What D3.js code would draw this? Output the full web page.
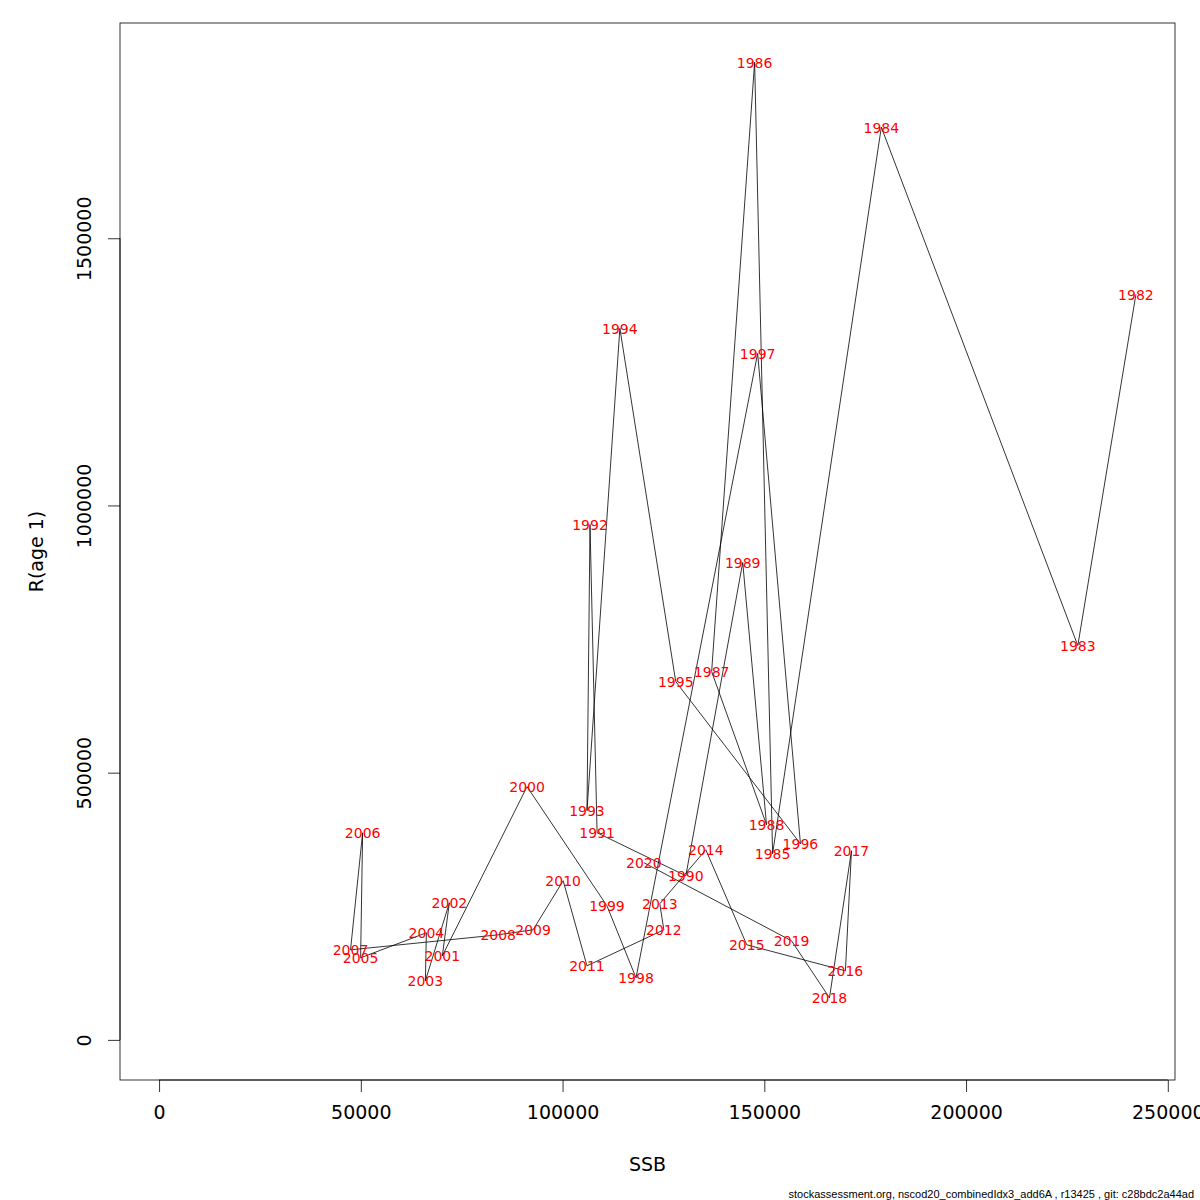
<!DOCTYPE html>
<html>
<head>
<meta charset="utf-8">
<script src="https://cdn.jsdelivr.net/npm/d3@7/dist/d3.min.js"></script>
<style>
  body { margin: 0; background: #fff; }
  svg { display: block; font-family: "DejaVu Sans", sans-serif; }
</style>
</head>
<body>
<svg id="chart" width="1200" height="1200"></svg>
<script>
// values
var years = [1982, 1983, 1984, 1985, 1986, 1987, 1988, 1989, 1990, 1991,
  1992, 1993, 1994, 1995, 1996, 1997, 1998, 1999, 2000, 2001,
  2002, 2003, 2004, 2005, 2006, 2007, 2008, 2009, 2010, 2011,
  2012, 2013, 2014, 2015, 2016, 2017, 2018, 2019, 2020];
var ssb = [242100, 227700, 179000, 152050, 147600, 136950, 150550, 144650, 130550, 108550,
  106800, 106050, 114200, 128050, 158950, 148350, 118200, 111000, 91200, 70200,
  71950, 66000, 66250, 49950, 50450, 47450, 84050, 92700, 100150, 106050,
  125100, 124100, 135500, 145650, 170100, 171600, 166150, 156750, 120150];
var rec = [1395100, 737800, 1707900, 348300, 1829600, 689100, 402600, 893300, 307100, 387600,
  964400, 428800, 1331500, 670400, 367000, 1284600, 116100, 250900, 473800, 157300,
  256600, 110500, 200400, 153600, 387600, 168500, 196600, 206000, 297800, 138600,
  206000, 254700, 355800, 177900, 129200, 353900, 78700, 185400, 331500];
var xTicks = [0, 50000, 100000, 150000, 200000, 250000];
var yTicks = [0, 500000, 1000000, 1500000];
var footer = 'stockassessment.org, nscod20_combinedIdx3_add6A , r13425 , git: c28bdc2a44ad';

var svg = d3.select('#chart');
var plotL = 120, plotR = 1175, plotT = 23, plotB = 1080;

// R style range: include 0, pad 4% either side
function rExtend(max) {
  var pad = max * 0.04;
  return [-pad, max + pad];
}

var x = d3.scaleLinear().domain(rExtend(d3.max(ssb))).range([plotL, plotR]);
var y = d3.scaleLinear().domain(rExtend(d3.max(rec))).range([plotB - 1, plotT]);

var pts = years.map(function(yr, i) { return { year: yr, s: ssb[i], r: rec[i] }; });

// connecting line
svg.append('path')
  .datum(pts)
  .attr('fill', 'none')
  .attr('stroke', '#000')
  .attr('stroke-width', 0.8)
  .attr('d', d3.line().x(function(d) { return x(d.s); }).y(function(d) { return y(d.r); }));

// year labels
svg.append('g')
  .selectAll('text')
  .data(pts)
  .enter().append('text')
  .attr('x', function(d) { return x(d.s); })
  .attr('y', function(d) { return y(d.r); })
  .attr('dy', '0.4em')
  .attr('text-anchor', 'middle')
  .attr('font-size', 14)
  .attr('fill', '#ff0000')
  .text(function(d) { return d.year; });

// box
svg.append('rect')
  .attr('x', plotL).attr('y', plotT)
  .attr('width', plotR - plotL).attr('height', plotB - plotT)
  .attr('fill', 'none').attr('stroke', '#000').attr('stroke-width', 0.8);

// x axis
var xAxis = svg.append('g').attr('transform', 'translate(0,' + plotB + ')')
  .call(d3.axisBottom(x).tickValues(xTicks).tickSize(12).tickPadding(14).tickFormat(d3.format('d')));
xAxis.selectAll('path, line').attr('stroke', '#000').attr('stroke-width', 0.8);
xAxis.select('.domain').attr('d', 'M' + x(xTicks[0]) + ',0H' + x(xTicks[xTicks.length - 1]));
xAxis.selectAll('text').attr('font-size', 19).attr('font-family', 'DejaVu Sans').attr('fill', '#000');

// y axis, labels turned like R's default
var yAxis = svg.append('g').attr('transform', 'translate(' + plotL + ',0)')
  .call(d3.axisLeft(y).tickValues(yTicks).tickSize(12).tickFormat(d3.format('d')));
yAxis.selectAll('path, line').attr('stroke', '#000').attr('stroke-width', 0.8);
yAxis.select('.domain').attr('d', 'M0,' + y(yTicks[0]) + 'V' + y(yTicks[yTicks.length - 1]));
yAxis.selectAll('text')
  .attr('x', null).attr('dy', null)
  .attr('transform', 'translate(-36,0) rotate(-90)')
  .attr('text-anchor', 'middle')
  .attr('dominant-baseline', 'central')
  .attr('font-size', 19).attr('font-family', 'DejaVu Sans').attr('fill', '#000');

// axis titles
svg.append('text')
  .attr('x', (plotL + plotR) / 2).attr('y', 1171)
  .attr('text-anchor', 'middle')
  .attr('font-size', 19)
  .text('SSB');

svg.append('text')
  .attr('transform', 'translate(43,' + (plotT + plotB) / 2 + ') rotate(-90)')
  .attr('text-anchor', 'middle')
  .attr('font-size', 19)
  .text('R(age 1)');

svg.append('text')
  .attr('x', 1194).attr('y', 1198)
  .attr('text-anchor', 'end')
  .attr('font-family', '"Liberation Sans", Arial, sans-serif')
  .attr('font-size', 11)
  .text(footer);
</script>
</body>
</html>
